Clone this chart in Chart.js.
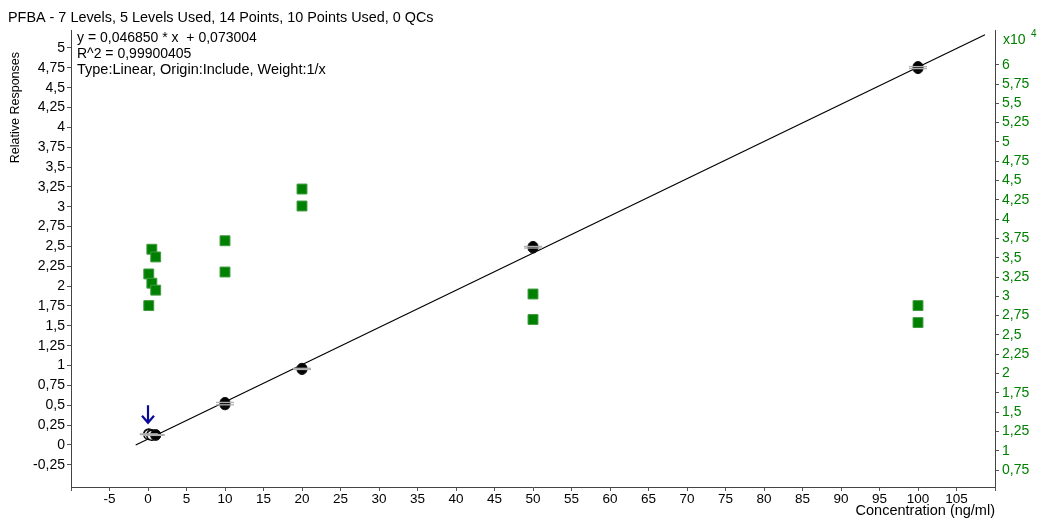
<!DOCTYPE html>
<html>
<head>
<meta charset="utf-8">
<script src="https://cdn.jsdelivr.net/npm/chart.js@4/dist/chart.umd.min.js"></script>
<style>
	html, body { margin: 0; padding: 0; background: #fff; }
	#wrap { width: 1040px; height: 520px; }
</style>
</head>
<body>
<div id="wrap"><canvas id="calChart" width="1040" height="520"></canvas></div>
<script>
const titleText = "PFBA - 7 Levels, 5 Levels Used, 14 Points, 10 Points Used, 0 QCs";
const fitLines = ["y = 0,046850 * x  + 0,073004", "R^2 = 0,99900405", "Type:Linear, Origin:Include, Weight:1/x"];
const yTitle = "Relative Responses";

// calibration points used (relative response)
const usedConc = [1, 1, 10, 10, 20, 20, 50, 50, 100, 100];
const usedResp = [0.12, 0.13, 0.505, 0.535, 0.95, 0.965, 2.48, 2.50, 4.74, 4.765];

// excluded points
const exclConc = [0.1, 0.1, 0.5, 0.5];
const exclResp = [0.14, 0.13, 0.13, 0.12];

// internal standard area (right axis)
const isConc = [0.1, 0.1, 0.5, 0.5, 1, 1, 10, 10, 20, 20, 50, 50, 100, 100];
const isArea = [28800, 32900, 36100, 31700, 35100, 30800, 37200, 33150, 43900, 41700, 30300, 27000, 28800, 26600];

// regression line ends
const fitX = [-1.6, 108.7];
const fitY = [-0.002, 5.166];

// arrow marker (x, tail y, tip y)
const arrowPos = [0, 0.5, 0.28];

const xTicks = [-10, -5, 0, 5, 10, 15, 20, 25, 30, 35, 40, 45, 50, 55, 60, 65, 70, 75, 80, 85, 90, 95, 100, 105, 110];
const yTicks = [-0.25, 0, 0.25, 0.5, 0.75, 1, 1.25, 1.5, 1.75, 2, 2.25, 2.5, 2.75, 3, 3.25, 3.5, 3.75, 4, 4.25, 4.5, 4.75, 5];
const y2Ticks = [7500, 10000, 12500, 15000, 17500, 20000, 22500, 25000, 27500, 30000, 32500, 35000, 37500, 40000, 42500, 45000, 47500, 50000, 52500, 55000, 57500, 60000];

const FONT = '"Liberation Sans", Arial, sans-serif';
const GREEN = "#008000";

function pts(xs, ys) {
	return xs.map((x, i) => ({ x: x, y: ys[i] }));
}
function comma(v) {
	return String(v).replace(".", ",");
}

const textPlugin = {
	id: "texts",
	afterDraw(chart) {
		const ctx = chart.ctx;
		const ca = chart.chartArea;
		ctx.save();
		ctx.fillStyle = "#000";
		ctx.textBaseline = "middle";
		ctx.textAlign = "left";
		ctx.font = "14.4px " + FONT;
		ctx.fillText(titleText, 8, 18);
		const sizes = [14, 14, 14.5];
		fitLines.forEach((t, i) => {
			ctx.font = sizes[i] + "px " + FONT;
			ctx.fillText(t, ca.left + 6, 38 + i * 16);
		});

		// y axis title, top aligned
		ctx.save();
		ctx.translate(16, 52);
		ctx.rotate(-Math.PI / 2);
		ctx.textAlign = "right";
		ctx.font = "12.5px " + FONT;
		ctx.fillText(yTitle, 0, 0);
		ctx.restore();

		// x10^4 label on right axis
		ctx.fillStyle = GREEN;
		ctx.font = "14px " + FONT;
		ctx.fillText("x10", ca.right + 8, 40);
		ctx.font = "10px " + FONT;
		ctx.fillText("4", ca.right + 36, 34);

		// arrow
		const xs = chart.scales.x, ys = chart.scales.y;
		const ax = xs.getPixelForValue(arrowPos[0]);
		const y0 = ys.getPixelForValue(arrowPos[1]);
		const y1 = ys.getPixelForValue(arrowPos[2]);
		ctx.strokeStyle = "#0a0a9a";
		ctx.lineWidth = 2.2;
		ctx.beginPath();
		ctx.moveTo(ax, y0);
		ctx.lineTo(ax, y1);
		ctx.moveTo(ax - 6, y1 - 7);
		ctx.lineTo(ax, y1);
		ctx.lineTo(ax + 6, y1 - 7);
		ctx.stroke();
		ctx.restore();
	},
};

const ctxCal = document.getElementById("calChart").getContext("2d");
const calChart = new Chart(ctxCal, {
	type: "scatter",
	data: {
		datasets: [
			{
				type: "line",
				label: "Fit",
				data: pts(fitX, fitY),
				borderColor: "#000",
				borderWidth: 1.2,
				pointRadius: 0,
				order: 6,
			},
			{
				label: "IS Area",
				data: pts(isConc, isArea),
				yAxisID: "y2",
				pointStyle: "rect",
				pointRadius: 7,
				backgroundColor: GREEN,
				borderColor: "#3f9a3f",
				borderWidth: 1,
				order: 5,
			},
			{
				label: "Excluded",
				data: pts(exclConc, exclResp),
				pointRadius: 5,
				backgroundColor: "rgba(255,255,255,0.7)",
				borderColor: "#000",
				borderWidth: 1.2,
				order: 3,
			},
			{
				label: "Used",
				data: pts(usedConc, usedResp),
				pointRadius: 5,
				backgroundColor: "#000",
				borderColor: "#111",
				borderWidth: 1,
				order: 2,
			},
			{
				label: "Marks",
				data: pts(usedConc.concat(exclConc), usedResp.concat(exclResp)),
				pointStyle: "line",
				pointRadius: 9,
				borderColor: "#b0b0b0",
				borderWidth: 1.3,
				order: 1,
			},
		],
	},
	options: {
		responsive: false,
		animation: false,
		layout: { padding: { top: 30, left: 0, right: 0, bottom: 0 } },
		plugins: {
			legend: { display: false },
			tooltip: { enabled: false },
		},
		scales: {
			x: {
				type: "linear",
				min: -10,
				max: 110,
				afterBuildTicks: (s) => { s.ticks = xTicks.map((v) => ({ value: v })); },
				afterFit: (s) => { s.height = 33; },
				grid: { drawOnChartArea: false, tickLength: 4, color: "#555" },
				border: { color: "#444", width: 1 },
				ticks: {
					autoSkip: false,
					maxRotation: 0,
					padding: 0,
					color: "#000",
					font: { family: FONT, size: 13.5 },
					callback: (v) => (v === -10 || v === 110 ? "" : comma(v)),
				},
				title: {
					display: true,
					text: "Concentration (ng/ml)",
					align: "end",
					color: "#000",
					font: { family: FONT, size: 14.5 },
					padding: { top: 0, bottom: 0 },
				},
			},
			y: {
				type: "linear",
				position: "left",
				min: -0.53,
				max: 5.226,
				afterBuildTicks: (s) => { s.ticks = yTicks.map((v) => ({ value: v })); },
				afterFit: (s) => { s.width = 71; },
				grid: { drawOnChartArea: false, tickLength: 4, color: "#555" },
				border: { color: "#444", width: 1 },
				ticks: {
					autoSkip: false,
					padding: 2,
					color: "#000",
					font: { family: FONT, size: 14 },
					callback: (v) => comma(v),
				},
			},
			y2: {
				type: "linear",
				position: "right",
				min: 5300,
				max: 64500,
				afterBuildTicks: (s) => { s.ticks = y2Ticks.map((v) => ({ value: v })); },
				afterFit: (s) => { s.width = 45; },
				grid: { drawOnChartArea: false, tickLength: 4, color: "#555" },
				border: { color: "#444", width: 1 },
				ticks: {
					autoSkip: false,
					padding: 3,
					color: GREEN,
					font: { family: FONT, size: 14 },
					callback: (v) => comma(v / 10000),
				},
			},
		},
	},
	plugins: [textPlugin],
});
</script>
</body>
</html>
